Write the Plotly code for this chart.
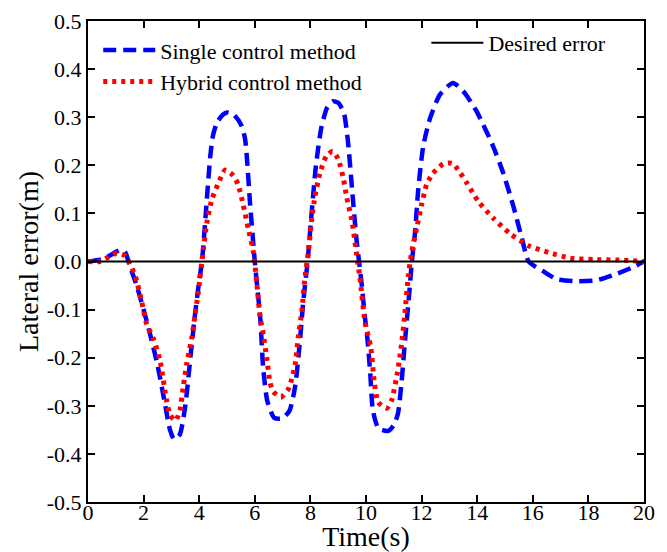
import plotly.graph_objects as go

# Single control method (blue dashed)
t_single = [0, 0.5, 0.8, 1.0, 1.2, 1.35, 1.5, 1.75, 2.0, 2.25, 2.5, 2.75, 2.95, 3.1, 3.3, 3.5, 3.7, 3.85,
            4.0, 4.1, 4.25, 4.4, 4.5, 4.65, 4.85, 5.0, 5.25, 5.5, 5.65, 5.83, 6.0, 6.1, 6.2, 6.3, 6.45,
            6.7, 7.0, 7.25, 7.45, 7.6, 7.75, 7.9, 8.0, 8.2, 8.4, 8.6, 8.8, 9.0, 9.2, 9.35, 9.5, 9.65,
            9.75, 9.85, 9.95, 10.05, 10.15, 10.25, 10.45, 10.8, 11.0, 11.15, 11.28, 11.4, 11.55, 11.65,
            11.76, 11.88, 12.06, 12.3, 12.66, 13.13, 13.5, 13.98, 14.57, 14.93, 15.3, 15.6, 15.85,
            16.37, 16.87, 17.6, 18.3, 19.0, 19.6, 20]
e_single = [0, 0.005, 0.013, 0.02, 0.025, 0.018, -0.008, -0.05, -0.10, -0.155, -0.215, -0.29, -0.35, -0.37,
            -0.36, -0.30, -0.19, -0.11, -0.04, 0.0, 0.11, 0.22, 0.263, 0.29, 0.305, 0.31, 0.305, 0.285,
            0.255, 0.12, 0.0, -0.06, -0.12, -0.22, -0.29, -0.325, -0.326, -0.31, -0.26, -0.18, -0.08, 0.0,
            0.07, 0.20, 0.28, 0.32, 0.333, 0.33, 0.31, 0.25, 0.15, 0.05, 0.0, -0.05, -0.11, -0.16, -0.23,
            -0.31, -0.347, -0.352, -0.34, -0.316, -0.25, -0.167, -0.07, 0.0, 0.058, 0.15, 0.24, 0.297,
            0.347, 0.371, 0.354, 0.312, 0.24, 0.185, 0.115, 0.05, 0.0, -0.02, -0.037, -0.041, -0.039,
            -0.026, -0.012, 0]

# Hybrid control method (red dotted)
t_hybrid = [0, 0.43, 0.73, 1.03, 1.33, 1.51, 1.7, 1.93, 2.11, 2.35, 2.59, 2.83, 2.95, 3.15, 3.31, 3.43,
            3.55, 3.73, 3.85, 3.97, 4.15, 4.27, 4.45, 4.75, 4.93, 5.22, 5.4, 5.59, 5.77, 5.95, 6.07,
            6.19, 6.31, 6.43, 6.55, 6.67, 6.94, 7.2, 7.33, 7.45, 7.57, 7.69, 7.81, 7.92, 8.05, 8.17,
            8.35, 8.58, 8.8, 9.0, 9.19, 9.31, 9.49, 9.66, 9.78, 9.96, 10.17, 10.3, 10.44, 10.75, 10.92,
            11.13, 11.26, 11.4, 11.52, 11.64, 11.82, 12.0, 12.18, 12.4, 12.78, 13.0, 13.14, 13.38,
            13.62, 14.04, 14.58, 15.18, 15.84, 16.56, 17.34, 18.2, 19.1, 20]
e_hybrid = [0, 0.0, 0.009, 0.017, 0.012, -0.005, -0.03, -0.083, -0.13, -0.16, -0.206, -0.29, -0.318,
            -0.331, -0.308, -0.259, -0.213, -0.16, -0.111, -0.062, 0.026, 0.079, 0.128, 0.171, 0.19,
            0.179, 0.16, 0.116, 0.067, 0.019, -0.044, -0.115, -0.153, -0.201, -0.252, -0.271, -0.282,
            -0.266, -0.244, -0.215, -0.153, -0.104, -0.03, 0.017, 0.09, 0.137, 0.185, 0.22, 0.229,
            0.213, 0.171, 0.132, 0.086, 0.016, -0.033, -0.125, -0.178, -0.252, -0.293, -0.305, -0.289,
            -0.231, -0.181, -0.107, -0.03, 0.018, 0.069, 0.118, 0.16, 0.183, 0.203, 0.205, 0.203, 0.185,
            0.164, 0.125, 0.09, 0.058, 0.033, 0.019, 0.007, 0.004, 0.003, 0]

# Desired error
t_desired = [0, 20]
e_desired = [0, 0]

x_ticks = [0, 2, 4, 6, 8, 10, 12, 14, 16, 18, 20]
y_ticks = [-0.5, -0.4, -0.3, -0.2, -0.1, 0.0, 0.1, 0.2, 0.3, 0.4, 0.5]

FONT = "Liberation Serif, Times New Roman, serif"

fig = go.Figure()
fig.add_trace(go.Scatter(x=t_single, y=e_single, mode="lines", name="Single control method",
                         line=dict(color="#0000ff", width=4.5, dash="13px,7px", shape="spline", smoothing=0.6),
                         legend="legend"))
fig.add_trace(go.Scatter(x=t_hybrid, y=e_hybrid, mode="lines", name="Hybrid control method",
                         line=dict(color="#ff0000", width=5, dash="4px,5px", shape="spline", smoothing=0.6),
                         legend="legend"))
fig.add_trace(go.Scatter(x=t_desired, y=e_desired, mode="lines", name="Desired error",
                         line=dict(color="black", width=2), legend="legend2"))

legend_common = dict(xanchor="left", yanchor="top", itemwidth=52,
                     font=dict(family=FONT, size=22), bgcolor="rgba(0,0,0,0)",
                     traceorder="normal", tracegroupgap=0)

# The page body has an 8px margin, so the figure is sized and padded to compensate.
fig.update_layout(
    width=659, height=544,
    margin=dict(l=80, r=23, t=13, b=50),
    paper_bgcolor="white", plot_bgcolor="white",
    font=dict(family=FONT, color="black", size=22),
    showlegend=True,
    legend=dict(x=0.0184, y=0.983, **legend_common),
    legend2=dict(x=0.6086, y=0.998, **legend_common),
    xaxis=dict(range=[0, 20], tickvals=x_ticks, ticktext=[str(v) for v in x_ticks],
               ticks="inside", ticklen=7, tickwidth=2, tickcolor="black", ticklabelstandoff=-10,
               showline=True, linewidth=2, linecolor="black", mirror="ticks",
               showgrid=False, zeroline=False, automargin=False,
               title=dict(text="Time(s)", font=dict(family=FONT, size=28), standoff=12),
               tickfont=dict(family=FONT, size=22)),
    yaxis=dict(range=[-0.5, 0.5], tickvals=y_ticks, ticktext=[f"{v:.1f}" for v in y_ticks],
               ticks="inside", ticklen=7, tickwidth=2, tickcolor="black",
               showline=True, linewidth=2, linecolor="black", mirror="ticks",
               showgrid=False, zeroline=False, automargin=False,
               title=dict(text="Lateral error(m)", font=dict(family=FONT, size=28), standoff=0),
               tickfont=dict(family=FONT, size=22)),
)

fig.write_html("out.html")
